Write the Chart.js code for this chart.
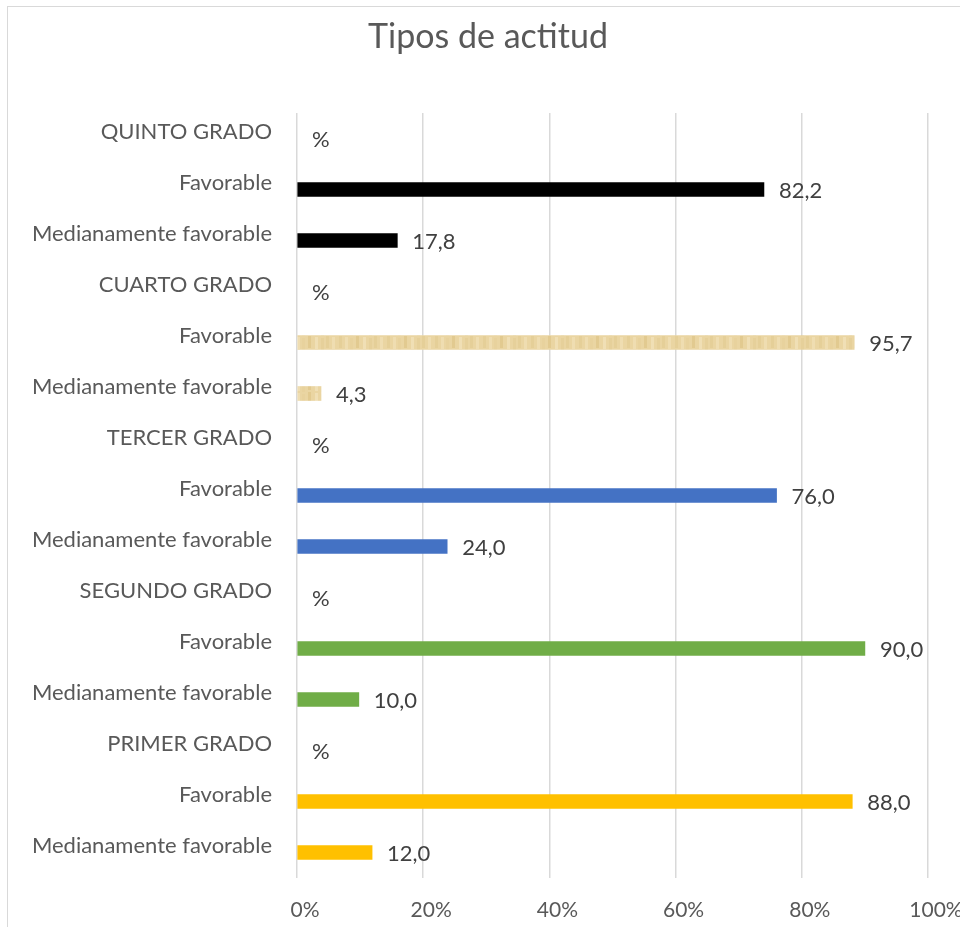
<!DOCTYPE html>
<html>
<head>
<meta charset="utf-8">
<script src="https://cdn.jsdelivr.net/npm/chart.js@4.4.1/dist/chart.umd.min.js"></script>
<style>
    html, body { margin: 0; padding: 0; background: #fff; overflow: hidden; }
    #wrap { position: relative; width: 960px; height: 927px; }
    #frame { position: absolute; left: 7px; top: 6px; width: 1000px; height: 1000px; border: 1.5px solid #d9d9d9; pointer-events: none; }
</style>
</head>
<body>
<div id="wrap">
    <canvas id="actitud-chart"></canvas>
    <div id="frame"></div>
</div>
<script>
const categories = [
    'QUINTO GRADO', 'Favorable', 'Medianamente favorable',
    'CUARTO GRADO', 'Favorable', 'Medianamente favorable',
    'TERCER GRADO', 'Favorable', 'Medianamente favorable',
    'SEGUNDO GRADO', 'Favorable', 'Medianamente favorable',
    'PRIMER GRADO', 'Favorable', 'Medianamente favorable'
];

// bar lengths as drawn in the picture (percent of axis), header rows have no bar
const barValues = [null, 74.0, 15.9, null, 88.3, 3.8, null, 76.0, 23.8, null, 90.0, 9.8, null, 88.0, 11.9];

// labels printed next to the bars
const valueLabels = ['%', '82,2', '17,8', '%', '95,7', '4,3', '%', '76,0', '24,0', '%', '90,0', '10,0', '%', '88,0', '12,0'];

const xTicks = [0, 20, 40, 60, 80, 100];

const chartTitle = 'Tipos de actitud';

function papyrusPattern() {
    const c = document.createElement('canvas');
    c.width = 48;
    c.height = 14;
    const g = c.getContext('2d');
    g.fillStyle = '#ead5a2';
    g.fillRect(0, 0, 48, 14);
    const shades = ['#e5cf98', '#efddb1', '#e8d29d', '#e2ca90', '#f0dfb5', '#e6d09a'];
    const xs = [3, 9, 14, 20, 27, 33, 38, 44];
    xs.forEach((x, i) => {
        g.fillStyle = shades[i % shades.length];
        g.fillRect(x, i % 3, 3, 12);
    });
    return g.createPattern(c, 'repeat');
}

const tan = papyrusPattern();
const gradeColors = ['#000000', tan, '#4472c4', '#70ad47', '#ffc000'];
const barColors = categories.map((c, i) => gradeColors[Math.floor(i / 3)]);

const valueLabelPlugin = {
    id: 'valueLabels',
    afterDatasetsDraw(chart) {
        const ctx = chart.ctx;
        const xs = chart.scales.x;
        const ys = chart.scales.y;
        ctx.save();
        ctx.font = '22px Lato';
        ctx.fillStyle = '#404040';
        ctx.textAlign = 'left';
        ctx.textBaseline = 'middle';
        valueLabels.forEach((txt, i) => {
            const x = xs.getPixelForValue(barValues[i] || 0);
            const y = ys.getPixelForValue(i);
            ctx.fillText(txt, x + 15, y + 1);
        });
        ctx.restore();
    }
};

const titlePlugin = {
    id: 'excelTitle',
    afterDraw(chart) {
        const ctx = chart.ctx;
        ctx.save();
        ctx.font = '34px Lato';
        ctx.fillStyle = '#595959';
        ctx.textAlign = 'center';
        ctx.textBaseline = 'middle';
        ctx.fillText(chartTitle, 488, 37);
        ctx.restore();
    }
};

new Chart(document.getElementById('actitud-chart'), {
    type: 'bar',
    data: {
        labels: categories,
        datasets: [{
            data: barValues,
            backgroundColor: barColors,
            barThickness: 14
        }]
    },
    options: {
        indexAxis: 'y',
        responsive: true,
        maintainAspectRatio: false,
        animation: false,
        layout: {
            padding: { left: 0, right: 32, top: 113, bottom: 5 }
        },
        plugins: {
            legend: { display: false },
            tooltip: { enabled: false },
            title: { display: false }
        },
        scales: {
            x: {
                min: 0,
                max: 100,
                afterBuildTicks: scale => {
                    scale.ticks = xTicks.map(v => ({ value: v }));
                },
                afterFit: scale => {
                    scale.height = 44;
                    scale.paddingLeft = 0;
                    scale.paddingRight = 0;
                },
                border: { display: false },
                grid: {
                    color: '#d9d9d9',
                    lineWidth: 1.5,
                    drawTicks: false
                },
                ticks: {
                    padding: 20,
                    labelOffset: 8,
                    color: '#595959',
                    font: { family: 'Lato', size: 21 },
                    callback: v => v + '%'
                }
            },
            y: {
                border: { display: false },
                grid: { display: false, drawTicks: false },
                afterFit: scale => { scale.width = 297; },
                ticks: {
                    padding: 25,
                    labelOffset: -7,
                    color: '#595959',
                    autoSkip: false,
                    font: { family: 'Lato', size: 22 }
                }
            }
        }
    },
    plugins: [valueLabelPlugin, titlePlugin]
});
</script>
</body>
</html>
